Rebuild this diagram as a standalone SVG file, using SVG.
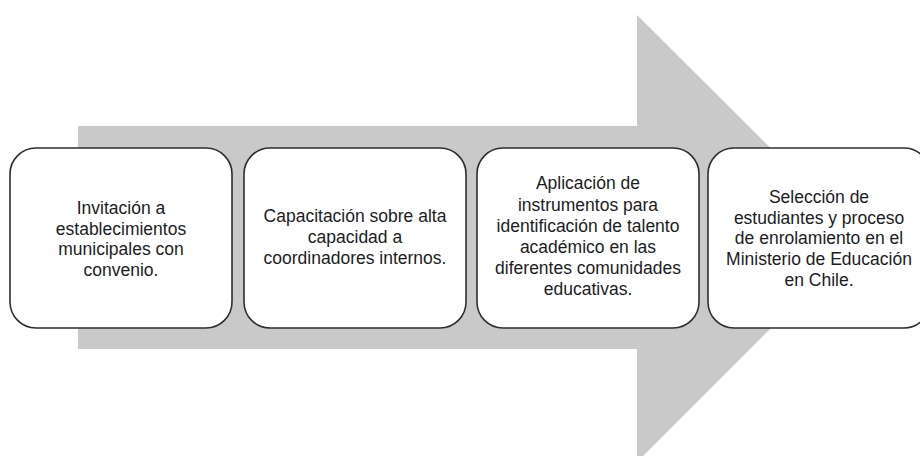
<svg xmlns="http://www.w3.org/2000/svg" width="920" height="456" viewBox="0 0 920 456">
<style>
.box{fill:#ffffff;stroke:#2e2e2e;stroke-width:1.6}
.t{font-family:"Liberation Sans",Arial,sans-serif;font-size:17.5px;fill:#1c1c24;text-anchor:middle}
</style>
<rect width="920" height="456" fill="#ffffff"/>
<g id="arrow">
<polygon points="78,126 637,126 637,15 861,238 637,462 637,349 78,349" fill="#c9c9c9"/>
</g>
<g id="node1">
<rect class="box" x="10" y="148" width="222" height="180" rx="26"/>
<text class="t" x="121" y="214">Invitación a</text>
<text class="t" x="121" y="235">establecimientos</text>
<text class="t" x="121" y="255">municipales con</text>
<text class="t" x="121" y="276">convenio.</text>
</g>
<g id="node2">
<rect class="box" x="244" y="148" width="222" height="180" rx="26"/>
<text class="t" x="355" y="222">Capacitación sobre alta</text>
<text class="t" x="355" y="243">capacidad a</text>
<text class="t" x="355" y="264">coordinadores internos.</text>
</g>
<g id="node3">
<rect class="box" x="477" y="148" width="222" height="180" rx="26"/>
<text class="t" x="588" y="189">Aplicación de</text>
<text class="t" x="588" y="211">instrumentos para</text>
<text class="t" x="588" y="232">identificación de talento</text>
<text class="t" x="588" y="253">académico en las</text>
<text class="t" x="588" y="274">diferentes comunidades</text>
<text class="t" x="588" y="295">educativas.</text>
</g>
<g id="node4">
<rect class="box" x="708" y="148" width="222" height="180" rx="26"/>
<text class="t" x="819" y="203">Selección de</text>
<text class="t" x="819" y="224">estudiantes y proceso</text>
<text class="t" x="819" y="244">de enrolamiento en el</text>
<text class="t" x="819" y="265">Ministerio de Educación</text>
<text class="t" x="819" y="286">en Chile.</text>
</g>
<g id="connectors"></g>
</svg>
